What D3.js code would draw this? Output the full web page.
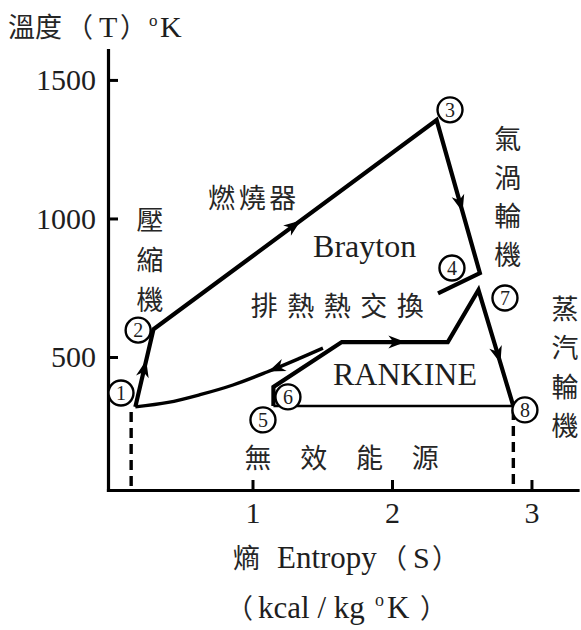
<!DOCTYPE html>
<html><head><meta charset="utf-8">
<script src="https://cdn.jsdelivr.net/npm/d3@7"></script>
<style>
body{margin:0;background:#fff}
svg{display:block}
.cjk{font-family:"Noto Sans CJK TC","Noto Sans CJK SC",sans-serif;fill:#262626}
.lat{font-family:"Liberation Serif","DejaVu Serif",serif;fill:#1e1e1e}
.axis text{font-family:"Liberation Serif","DejaVu Serif",serif;font-size:30px;fill:#1e1e1e}
</style></head><body><svg id="c" width="581" height="630"></svg>
<script>
// T–S diagram of a combined Brayton / Rankine cycle
// entropy S in kcal/kg°K, temperature T in °K
const sTicks = [1, 2, 3];
const tTicks = [500, 1000, 1500];

// Brayton: 1 → 2 (compressor) → 3 (combustor) → 4 (gas turbine) → exhaust
const braytonS = [0.16, 0.29, 2.32, 2.63, 2.33];
const braytonT = [320, 600, 1355, 803, 730];

// exhaust heat returned along the curve to state 1
const rejectS = [1.505, 1.341, 1.104, 0.860, 0.624, 0.395, 0.16];
const rejectT = [532, 496, 446, 399, 364, 336, 320];

// Rankine: 5 → 6 (pump) → heat recovery → 7 → 8 (steam turbine)
const rankineS = [1.15, 1.15, 1.64, 2.40, 2.62, 2.87];
const rankineT = [323, 392, 554, 554, 742, 323];

// condensation 8 → 5
const condS = [2.87, 1.15];
const condT = [323, 323];

// entropy limits dropped to the axis from states 1 and 8
const dropS = [0.13, 2.87];
const dropT = [316, 323];

// state markers
const stateNo = ["1", "2", "3", "4", "5", "6", "7", "8"];
const stateS = [0.057, 0.18, 2.416, 2.43, 1.075, 1.254, 2.81, 2.953];
const stateT = [370, 597, 1392, 821, 273, 356, 713, 309];

// direction arrows: which line, which segment, how far along it
const arrowLine = ["brayton", "brayton", "brayton", "reject", "rankine", "rankine"];
const arrowSeg = [0, 1, 2, -1, 2, 4];
const arrowPos = [0.6, 0.52, 0.6, 0.3, 0.6, 0.63];

const svg = d3.select("#c");
const x = d3.scaleLinear().domain([-0.036, 3.33]).range([108, 577.5]);
const y = d3.scaleLinear().domain([20, 1608]).range([490, 50]);
const serif = '"Liberation Serif","DejaVu Serif",serif';

// axes with inward ticks
const yAxis = svg.append("g").attr("class", "axis").attr("transform", `translate(${x(-0.036)},0)`)
  .call(d3.axisLeft(y).tickValues(tTicks).tickFormat(d3.format("d"))
    .tickSize(-10).tickSizeOuter(0).tickPadding(12));
const xAxis = svg.append("g").attr("class", "axis").attr("transform", `translate(0,${y(20)})`)
  .call(d3.axisBottom(x).tickValues(sTicks).tickFormat(d3.format("d"))
    .tickSize(-10).tickSizeOuter(0).tickPadding(12));
[yAxis, xAxis].forEach(g => {
  g.attr("font-family", serif).attr("font-size", 30);
  g.select(".domain").attr("stroke", "#000").attr("stroke-width", 3.2).attr("stroke-linecap", "square");
  g.selectAll(".tick line").attr("stroke", "#000").attr("stroke-width", 3);
  g.selectAll(".tick text").attr("font-family", serif).attr("font-size", 30)
    .attr("fill", "#1e1e1e");
});

const pts = (S, T) => S.map((s, i) => [x(s), y(T[i])]);
const line = d3.line();
const lines = {
  brayton: pts(braytonS, braytonT),
  reject: pts(rejectS, rejectT),
  rankine: pts(rankineS, rankineT),
};

// dashed drops
dropS.forEach((s, i) => {
  svg.append("line").attr("x1", x(s)).attr("x2", x(s)).attr("y1", y(dropT[i]) + 4).attr("y2", y(20))
    .attr("stroke", "#000").attr("stroke-width", 3.4).attr("stroke-dasharray", "10,6");
});

svg.append("path").attr("d", line(pts(condS, condT)))
  .attr("fill", "none").attr("stroke", "#000").attr("stroke-width", 2.6);

const rejectPath = svg.append("path").attr("d", d3.line().curve(d3.curveCatmullRom)(lines.reject))
  .attr("fill", "none").attr("stroke", "#000").attr("stroke-width", 3.4);

svg.append("path").attr("d", line(lines.brayton))
  .attr("fill", "none").attr("stroke", "#000").attr("stroke-width", 4.2)
  .attr("stroke-linejoin", "miter");
svg.append("path").attr("d", line(lines.rankine))
  .attr("fill", "none").attr("stroke", "#000").attr("stroke-width", 4.2)
  .attr("stroke-linejoin", "miter").attr("stroke-miterlimit", 10);

// arrowheads
arrowLine.forEach((name, i) => {
  let px, py, ang;
  if (arrowSeg[i] < 0) {
    const node = rejectPath.node();
    const L = node.getTotalLength();
    const p = node.getPointAtLength(L * arrowPos[i]);
    const q = node.getPointAtLength(L * arrowPos[i] + 1);
    px = p.x; py = p.y; ang = Math.atan2(q.y - p.y, q.x - p.x);
  } else {
    const a = lines[name][arrowSeg[i]], b = lines[name][arrowSeg[i] + 1];
    px = a[0] + (b[0] - a[0]) * arrowPos[i];
    py = a[1] + (b[1] - a[1]) * arrowPos[i];
    ang = Math.atan2(b[1] - a[1], b[0] - a[0]);
  }
  svg.append("path").attr("d", "M0,0 L-17,-6.5 L-12,0 L-17,6.5 Z")
    .attr("transform", `translate(${px},${py}) rotate(${ang * 180 / Math.PI})`)
    .attr("fill", "#000");
});

// state circles
stateNo.forEach((n, i) => {
  const g = svg.append("g").attr("transform", `translate(${x(stateS[i])},${y(stateT[i])})`);
  g.append("circle").attr("r", 12.5).attr("fill", "#fff").attr("stroke", "#000").attr("stroke-width", 2.4);
  g.append("text").attr("class", "lat").attr("text-anchor", "middle").attr("dy", "0.35em")
    .attr("font-size", 20).text(n);
});

// annotations
function vtext(chars, s, t, step) {
  chars.split("").forEach((ch, k) => {
    svg.append("text").attr("class", "cjk").attr("font-size", 27).attr("text-anchor", "middle")
      .attr("dominant-baseline", "central")
      .attr("x", x(s)).attr("y", y(t) + k * step).text(ch);
  });
}
function htext(chars, s, t, step) {
  chars.split("").forEach((ch, k) => {
    svg.append("text").attr("class", "cjk").attr("font-size", 27).attr("text-anchor", "middle")
      .attr("dominant-baseline", "central")
      .attr("x", x(s) + k * step).attr("y", y(t)).text(ch);
  });
}
htext("燃燒器", 0.78, 1081, 30.5);
vtext("壓縮機", 0.265, 1000, 40);
vtext("氣渦輪機", 2.83, 1291, 38.5);
vtext("蒸汽輪機", 3.24, 678, 39);
htext("排熱熱交換", 1.085, 688, 36.5);
htext("無效能源", 1.04, 140, 55.7);

svg.append("text").attr("class", "lat").attr("font-size", 32)
  .attr("x", x(1.434)).attr("y", y(860)).text("Brayton");
svg.append("text").attr("class", "lat").attr("font-size", 32)
  .attr("x", x(1.577)).attr("y", y(400)).text("RANKINE");

// axis titles
const tt = svg.append("text").attr("y", 37);
tt.append("tspan").attr("class", "cjk").attr("font-size", 27).attr("x", 8).text("溫度");
tt.append("tspan").attr("class", "cjk").attr("font-size", 27).attr("x", 66).text("（");
tt.append("tspan").attr("class", "lat").attr("font-size", 30).attr("x", 99).text("T");
tt.append("tspan").attr("class", "cjk").attr("font-size", 27).attr("x", 120).text("）");
tt.append("tspan").attr("class", "lat").attr("font-size", 17).attr("x", 149).attr("dy", -11).text("o");
tt.append("tspan").attr("class", "lat").attr("font-size", 30).attr("x", 160).attr("dy", 11).text("K");

const xt = svg.append("text").attr("y", 568);
xt.append("tspan").attr("class", "cjk").attr("font-size", 27).attr("x", 233).text("熵");
xt.append("tspan").attr("class", "lat").attr("font-size", 31).attr("x", 277).text("Entropy");
xt.append("tspan").attr("class", "cjk").attr("font-size", 27).attr("x", 380).text("（");
xt.append("tspan").attr("class", "lat").attr("font-size", 30).attr("x", 413).text("S");
xt.append("tspan").attr("class", "cjk").attr("font-size", 27).attr("x", 432).text("）");

const ut = svg.append("text").attr("y", 618);
ut.append("tspan").attr("class", "cjk").attr("font-size", 27).attr("x", 226).text("（");
ut.append("tspan").attr("class", "lat").attr("font-size", 31).attr("x", 258).text("kcal / kg");
ut.append("tspan").attr("class", "lat").attr("font-size", 18).attr("x", 375).attr("dy", -12).text("o");
ut.append("tspan").attr("class", "lat").attr("font-size", 31).attr("x", 387).attr("dy", 12).text("K");
ut.append("tspan").attr("class", "cjk").attr("font-size", 27).attr("x", 420).text("）");
</script></body></html>
